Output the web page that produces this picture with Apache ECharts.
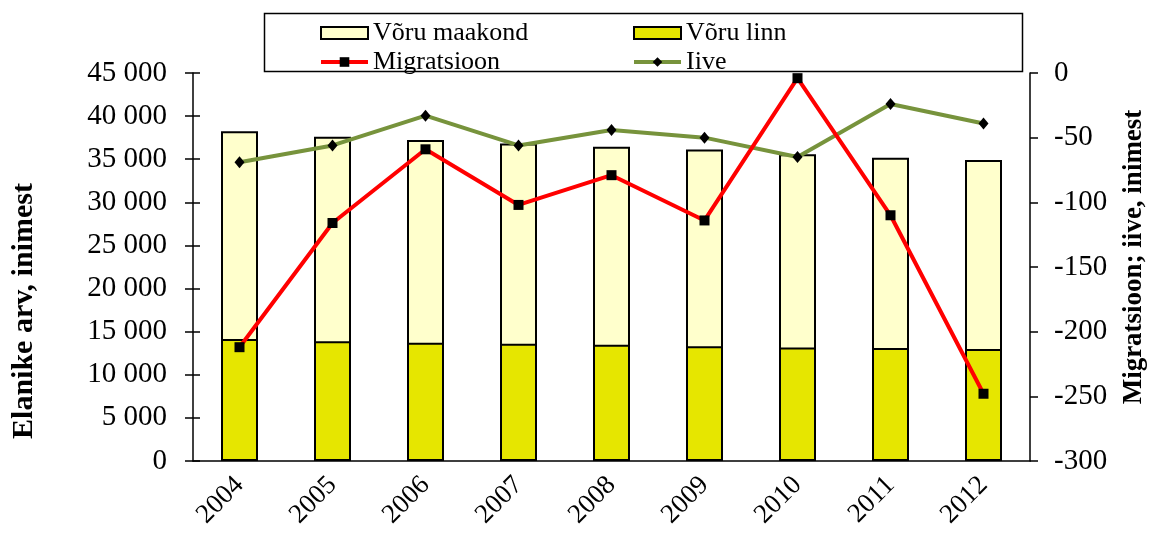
<!DOCTYPE html>
<html>
<head>
    <meta charset="utf-8">
    <title>Võru maakond</title>
    <script src="https://cdn.jsdelivr.net/npm/echarts@6.0.0/dist/echarts.min.js"></script>
    <style>html,body{margin:0;padding:0;background:#fff;}</style>
</head>
<body>
    <div id="chart" style="width: 1155px; height: 541px;"></div>

    <script>
        // andmed
        const years = ['2004', '2005', '2006', '2007', '2008', '2009', '2010', '2011', '2012'];
        const maakond = [38250, 37600, 37230, 36830, 36440, 36130, 35580, 35170, 34910];
        const linn = [14150, 13880, 13720, 13610, 13490, 13320, 13150, 13120, 12990];
        const migratsioon = [-212, -116, -59, -102, -79, -114, -4, -110, -248];
        const iive = [-69, -56, -33, -56, -44, -50, -65, -24, -39];

        const font = 'Liberation Serif, Times New Roman, serif';
        const chart = echarts.init(document.getElementById('chart'));

        const fmt = v => String(v).replace(/\B(?=(\d{3})+(?!\d))/g, ' ');
        const axisCol = { color: '#000', width: 1.5 };
        const legendText = { fontFamily: font, fontSize: 26, lineHeight: 26, color: '#000' };

        const option = {
            animation: false,
            textStyle: { fontFamily: font, color: '#000' },
            graphic: [
                {
                    type: 'rect',
                    shape: { x: 264.5, y: 13.5, width: 758, height: 58 },
                    style: { fill: '#fff', stroke: '#000', lineWidth: 1.5 },
                    z: -1
                },
                {
                    type: 'text', x: 24, y: 311, rotation: Math.PI / 2,
                    style: { text: 'Elanike arv, inimest', font: 'bold 30px ' + font, fill: '#000', align: 'center', verticalAlign: 'middle' }
                },
                {
                    type: 'text', x: 1134, y: 257, rotation: Math.PI / 2,
                    style: { text: 'Migratsioon; iive, inimest', font: 'bold 27px ' + font, fill: '#000', align: 'center', verticalAlign: 'middle' }
                }
            ],
            legend: [
                {
                    orient: 'vertical', left: 314, top: 15, itemGap: 3,
                    itemWidth: 47, itemHeight: 12, textStyle: legendText,
                    lineStyle: { width: 4 },
                    data: [{ name: 'Võru maakond', icon: 'rect' }, 'Migratsioon']
                },
                {
                    orient: 'vertical', left: 627, top: 15, itemGap: 3,
                    itemWidth: 47, itemHeight: 12, textStyle: legendText,
                    lineStyle: { width: 4 },
                    data: [{ name: 'Võru linn', icon: 'rect' }, 'Iive']
                }
            ],
            grid: { left: 193, right: 125, top: 73, bottom: 80, outerBoundsMode: 'none' },
            xAxis: {
                type: 'category',
                data: years,
                axisLine: { lineStyle: axisCol },
                axisTick: { length: 8, lineStyle: axisCol },
                axisLabel: { rotate: 45, fontSize: 27, color: '#000', fontFamily: font, margin: 20 }
            },
            yAxis: [
                {
                    type: 'value', min: 0, max: 45000, interval: 5000,
                    splitLine: { show: false },
                    axisLine: { show: true, lineStyle: axisCol },
                    axisTick: { show: true, length: 8, lineStyle: axisCol },
                    axisLabel: { fontSize: 29, color: '#000', fontFamily: font, margin: 26, formatter: fmt }
                },
                {
                    type: 'value', min: -300, max: 0, interval: 50,
                    splitLine: { show: false },
                    axisLine: { show: true, lineStyle: axisCol },
                    axisTick: { show: true, length: 8, lineStyle: axisCol },
                    axisLabel: { fontSize: 29, color: '#000', fontFamily: font, margin: 24 }
                },
                {
                    // sisemised kriipsud vasakul teljel
                    type: 'value', position: 'left', min: 0, max: 45000, interval: 5000,
                    splitLine: { show: false },
                    axisLine: { show: false },
                    axisLabel: { show: false },
                    axisTick: { show: true, inside: true, length: 7, lineStyle: axisCol }
                }
            ],
            series: [
                {
                    name: 'Võru maakond', type: 'bar', data: maakond, barWidth: 37, barGap: '-100%',
                    itemStyle: { color: '#FFFFCC', borderColor: '#000', borderWidth: 2 }
                },
                {
                    name: 'Võru linn', type: 'bar', data: linn, barWidth: 37,
                    itemStyle: { color: '#E6E600', borderColor: '#000', borderWidth: 2 }
                },
                {
                    name: 'Migratsioon', type: 'line', yAxisIndex: 1, data: migratsioon, z: 5,
                    symbol: 'rect', symbolSize: 10,
                    lineStyle: { color: '#FF0000', width: 4 },
                    itemStyle: { color: '#000' }
                },
                {
                    name: 'Iive', type: 'line', yAxisIndex: 1, data: iive, z: 4,
                    symbol: 'diamond', symbolSize: [10, 12],
                    lineStyle: { color: '#77933C', width: 4 },
                    itemStyle: { color: '#000' }
                }
            ]
        };

        chart.setOption(option);
    </script>
</body>
</html>
